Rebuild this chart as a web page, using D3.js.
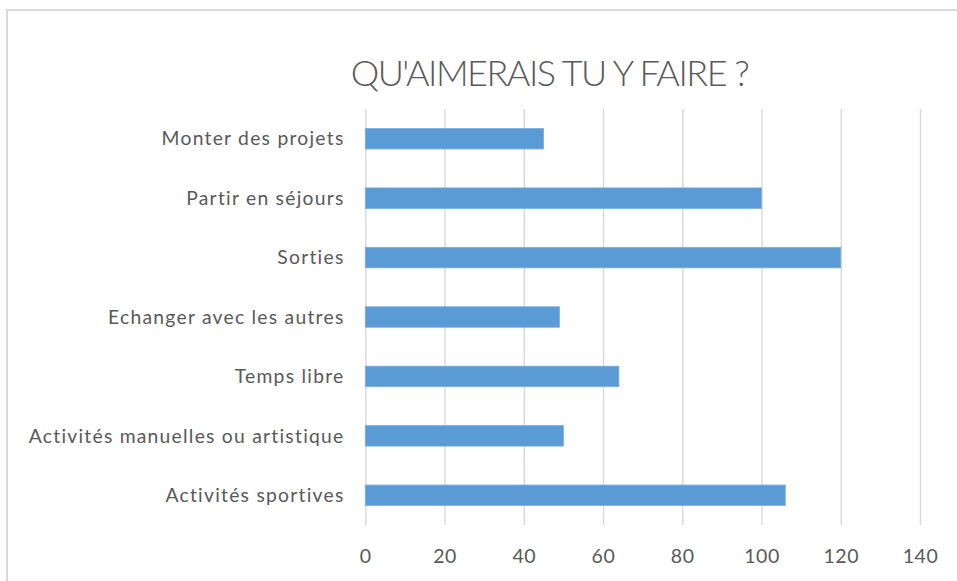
<!DOCTYPE html>
<html><head><meta charset="utf-8">
<script src="https://cdn.jsdelivr.net/npm/d3@7"></script>
<style>html,body{margin:0;padding:0;background:#fff;overflow:hidden}</style>
</head><body>
<svg id="chart" width="957" height="581"></svg>
<script>
const title = "QU'AIMERAIS TU Y FAIRE ?";
const categories = ["Monter des projets","Partir en séjours","Sorties","Echanger avec les autres","Temps libre","Activités manuelles ou artistique","Activités sportives"];
const values = [45, 100, 120, 49, 64, 50, 106];
const tickValues = [0, 20, 40, 60, 80, 100, 120, 140];

const svg = d3.select("#chart");
const font = "Lato, 'Open Sans', sans-serif";
const grey = "#595959";

svg.append("rect").attr("x", 7).attr("y", 10).attr("width", 1000).attr("height", 700)
  .attr("fill", "#fff").attr("stroke", "#d9d9d9").attr("stroke-width", 2);

const x = d3.scaleLinear().domain([0, 140]).range([365.3, 920]);
const y = d3.scaleBand().domain(categories).range([109, 525]).paddingInner(0.655).paddingOuter(0.3275);

// gridlines
const grid = svg.append("g").attr("transform", "translate(0,525)")
  .call(d3.axisBottom(x).tickValues(tickValues).tickSize(-416).tickFormat(""));
grid.select(".domain").remove();
grid.selectAll("line").attr("stroke", "#d9d9d9").attr("stroke-width", 1.4);

// bars
svg.append("g").selectAll("rect").data(categories).join("rect")
  .attr("x", x(0)).attr("y", d => y(d))
  .attr("width", (d, i) => x(values[i]) - x(0))
  .attr("height", y.bandwidth())
  .attr("fill", "#5b9bd5").attr("stroke", "#7aaee0").attr("stroke-width", 0.8);

// x tick labels
const xa = svg.append("g").attr("transform", "translate(0,549)")
  .call(d3.axisBottom(x).tickValues(tickValues).tickSize(0).tickPadding(0));
xa.select(".domain").remove();
xa.selectAll("text").attr("font-family", font).attr("font-size", 19.5).attr("fill", grey)
  .attr("letter-spacing", 0.6).attr("dy", "0.71em");

// y labels
const ya = svg.append("g").attr("transform", "translate(344.5,0)")
  .call(d3.axisLeft(y).tickSize(0).tickPadding(0));
ya.select(".domain").remove();
ya.selectAll("text").attr("font-family", font).attr("font-size", 19.3).attr("fill", grey)
  .attr("letter-spacing", 1.25).attr("dy", "0.35em");

// title
svg.append("text").attr("x", 549.5).attr("y", 86).attr("text-anchor", "middle")
  .attr("font-family", font).attr("font-weight", 300).attr("font-size", 36).attr("fill", grey)
  .attr("letter-spacing", -1.5)
  .text(title);
</script>
</body></html>
